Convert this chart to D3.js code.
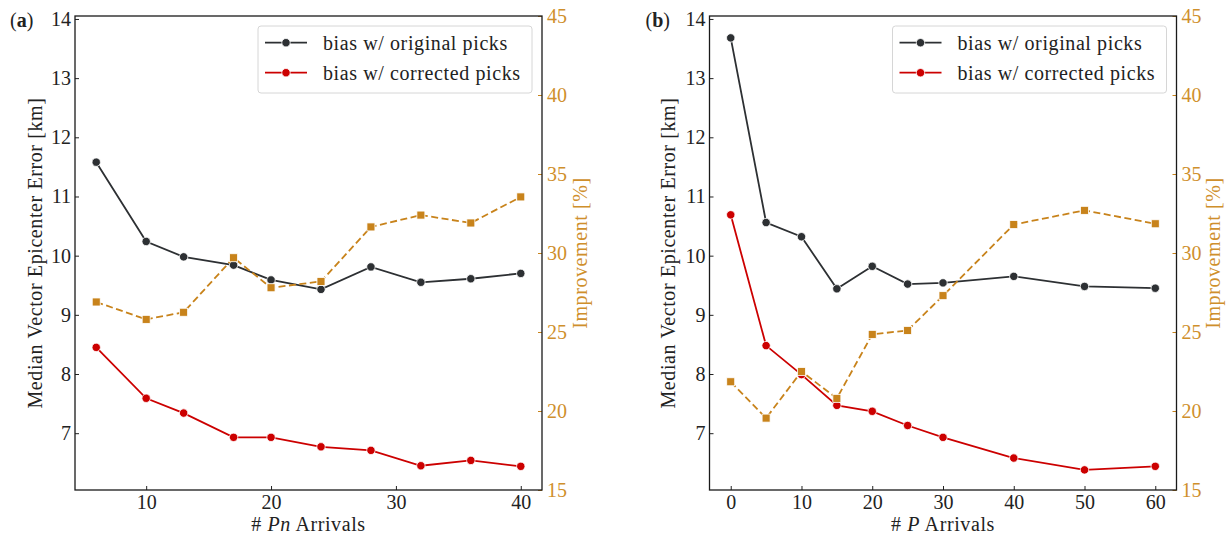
<!DOCTYPE html>
<html>
<head>
<meta charset="utf-8">
<script src="https://cdn.jsdelivr.net/npm/d3@7"></script>
<style>
  body { margin: 0; background: #fff; }
  text { font-family: 'Liberation Serif', 'Times New Roman', serif; }
</style>
</head>
<body>
<div id="chart"></div>
<script>
// ---- data ----
const pnArrivals = [6, 10, 13, 17, 20, 24, 28, 32, 36, 40]
const pnOriginal = [11.58, 10.24, 9.98, 9.84, 9.59, 9.43, 9.81, 9.55, 9.61, 9.70]
const pnCorrected = [8.45, 7.59, 7.34, 6.93, 6.93, 6.77, 6.71, 6.45, 6.54, 6.44]
const pnImprovement = [26.9, 25.8, 26.25, 29.7, 27.8, 28.2, 31.65, 32.4, 31.9, 33.55]

const pArrivals = [0, 5, 10, 15, 20, 25, 30, 40, 50, 60]
const pOriginal = [13.68, 10.56, 10.32, 9.44, 9.82, 9.52, 9.54, 9.65, 9.48, 9.45]
const pCorrected = [10.69, 8.48, 7.99, 7.47, 7.37, 7.13, 6.93, 6.58, 6.38, 6.44]
const pImprovement = [21.85, 19.55, 22.5, 20.8, 24.85, 25.1, 27.3, 31.8, 32.7, 31.85]

const errorTicks = [7, 8, 9, 10, 11, 12, 13, 14]
const improvementTicks = [15, 20, 25, 30, 35, 40, 45]
const pnTicks = [10, 20, 30, 40]
const pTicks = [0, 10, 20, 30, 40, 50, 60]

const legendLabels = ['bias w/ original picks', 'bias w/ corrected picks']

const black = '#2d3033'
const red = '#cc0000'
const orange = '#c8831b'
const orangeText = '#cf8f2c'

const svg = d3
  .select('#chart')
  .append('svg')
  .attr('width', 1231)
  .attr('height', 537)

function drawPanel(opts) {
  const left = opts.left
  const top = 16
  const width = opts.width
  const height = 474

  const g = svg.append('g').attr('transform', 'translate(' + left + ',' + top + ')')

  const xPositionScale = d3.scaleLinear().domain(opts.xDomain).range([0, width])
  const yPositionScale = d3.scaleLinear().domain([6.04, 14.05]).range([height, 0])
  const y2PositionScale = d3.scaleLinear().domain([15, 45]).range([height, 0])

  // axes, ticks pointing inward
  const xAxis = d3.axisBottom(xPositionScale)
    .tickValues(opts.xTicks)
    .tickSizeInner(-4)
    .tickSizeOuter(0)
    .tickPadding(5)
  g.append('g')
    .attr('class', 'axis x-axis')
    .attr('transform', 'translate(0,' + height + ')')
    .call(xAxis)

  const yAxis = d3.axisLeft(yPositionScale)
    .tickValues(errorTicks)
    .tickSizeInner(-4)
    .tickSizeOuter(0)
    .tickPadding(4)
  g.append('g').attr('class', 'axis y-axis').call(yAxis)

  const y2Axis = d3.axisRight(y2PositionScale)
    .tickValues(improvementTicks)
    .tickSizeInner(-4)
    .tickSizeOuter(0)
    .tickPadding(5)
  g.append('g')
    .attr('class', 'axis y2-axis')
    .attr('transform', 'translate(' + width + ',0)')
    .call(y2Axis)

  g.selectAll('.axis path').attr('stroke', 'none')
  g.selectAll('.axis text').attr('font-size', 20).attr('fill', '#222')
  g.selectAll('.axis line').attr('stroke', '#222').attr('stroke-width', 1)
  g.selectAll('.y2-axis text').attr('fill', orangeText)
  g.selectAll('.y2-axis line').attr('stroke', orange)

  // lines
  const lineFor = function(xs, scale) {
    return d3.line()
      .x((d, i) => xPositionScale(xs[i]))
      .y(d => scale(d))
  }

  const series = [
    { values: opts.original, color: black },
    { values: opts.corrected, color: red }
  ]

  series.forEach(function(s) {
    g.append('path')
      .datum(s.values)
      .attr('fill', 'none')
      .attr('stroke', s.color)
      .attr('stroke-width', 1.8)
      .attr('d', lineFor(opts.x, yPositionScale))
    g.selectAll(null)
      .data(s.values)
      .enter()
      .append('circle')
      .attr('cx', (d, i) => xPositionScale(opts.x[i]))
      .attr('cy', d => yPositionScale(d))
      .attr('r', 4.2)
      .attr('fill', s.color)
      .attr('stroke', '#fff')
      .attr('stroke-width', 0.8)
  })

  g.append('path')
    .datum(opts.improvement)
    .attr('fill', 'none')
    .attr('stroke', orange)
    .attr('stroke-width', 1.8)
    .attr('stroke-dasharray', '7,3.5')
    .attr('d', lineFor(opts.x, y2PositionScale))
  g.selectAll(null)
    .data(opts.improvement)
    .enter()
    .append('rect')
    .attr('x', (d, i) => xPositionScale(opts.x[i]) - 4)
    .attr('y', d => y2PositionScale(d) - 4)
    .attr('width', 8)
    .attr('height', 8)
    .attr('fill', orange)
    .attr('stroke', '#fff')
    .attr('stroke-width', 0.8)

  // spines
  g.append('rect')
    .attr('width', width)
    .attr('height', height)
    .attr('fill', 'none')
    .attr('stroke', '#1a1a1a')
    .attr('stroke-width', 1.3)

  // legend
  const lg = g.append('g').attr('transform', 'translate(' + (width - 284) + ',10)')
  lg.append('rect')
    .attr('width', 274)
    .attr('height', 67)
    .attr('rx', 3)
    .attr('fill', '#fff')
    .attr('fill-opacity', 0.8)
    .attr('stroke', '#d6d6d6')
    .attr('stroke-width', 1)
  series.forEach(function(s, i) {
    const yy = 16.7 + i * 30
    lg.append('line')
      .attr('x1', 7).attr('x2', 49)
      .attr('y1', yy).attr('y2', yy)
      .attr('stroke', s.color)
      .attr('stroke-width', 1.8)
    lg.append('circle')
      .attr('cx', 28).attr('cy', yy).attr('r', 4.2)
      .attr('fill', s.color)
      .attr('stroke', '#fff')
      .attr('stroke-width', 0.8)
    lg.append('text')
      .attr('x', 65)
      .attr('y', yy + 7)
      .attr('font-size', 20)
      .attr('letter-spacing', 0.6)
      .attr('fill', '#222')
      .text(legendLabels[i])
  })

  // axis titles
  g.append('text')
    .attr('transform', 'translate(' + opts.yLabelX + ',' + height / 2 + ') rotate(-90)')
    .attr('text-anchor', 'middle')
    .attr('font-size', 20)
    .attr('letter-spacing', 0.6)
    .attr('fill', '#222')
    .text('Median Vector Epicenter Error [km]')

  g.append('text')
    .attr('transform', 'translate(' + (width + opts.y2LabelX) + ',' + height / 2 + ') rotate(-90)')
    .attr('text-anchor', 'middle')
    .attr('font-size', 20)
    .attr('letter-spacing', 0.6)
    .attr('fill', orangeText)
    .text('Improvement [%]')

  const xl = g.append('text')
    .attr('x', width / 2)
    .attr('y', height + 41)
    .attr('text-anchor', 'middle')
    .attr('font-size', 20)
    .attr('letter-spacing', 0.6)
    .attr('fill', '#222')
  xl.append('tspan').text('# ')
  xl.append('tspan').attr('font-style', 'italic').text(opts.xVar)
  xl.append('tspan').text(' Arrivals')

  // panel letter
  const pl = g.append('text')
    .attr('x', opts.letterX)
    .attr('y', 11)
    .attr('font-size', 20)
    .attr('fill', '#222')
  pl.append('tspan').text('(')
  pl.append('tspan').attr('font-weight', 'bold').text(opts.letter)
  pl.append('tspan').text(')')
}

drawPanel({
  left: 75,
  width: 467,
  xDomain: [4.3, 41.7],
  xTicks: pnTicks,
  x: pnArrivals,
  original: pnOriginal,
  corrected: pnCorrected,
  improvement: pnImprovement,
  xVar: 'Pn',
  yLabelX: -33,
  y2LabelX: 45,
  letterX: -65,
  letter: 'a'
})

drawPanel({
  left: 709.5,
  width: 467,
  xDomain: [-3, 63],
  xTicks: pTicks,
  x: pArrivals,
  original: pOriginal,
  corrected: pCorrected,
  improvement: pImprovement,
  xVar: 'P',
  yLabelX: -35,
  y2LabelX: 43,
  letterX: -64,
  letter: 'b'
})
</script>
</body>
</html>
